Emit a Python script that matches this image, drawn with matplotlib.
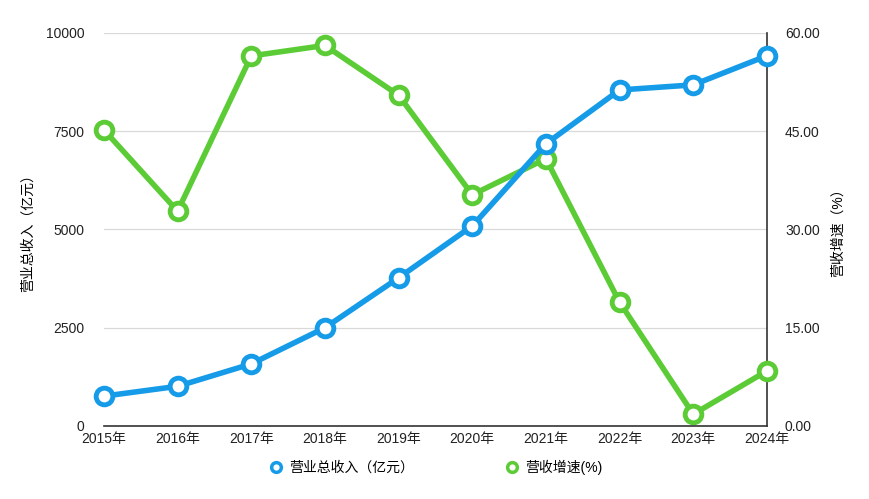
import matplotlib
matplotlib.use("Agg")
import matplotlib.pyplot as plt
from matplotlib.lines import Line2D

plt.rcParams['font.family'] = ['Liberation Sans', 'Noto Sans CJK SC', 'DejaVu Sans']

years = ["2015年", "2016年", "2017年", "2018年", "2019年",
         "2020年", "2021年", "2022年", "2023年", "2024年"]
revenue = [760, 1010, 1580, 2500, 3770, 5090, 7180, 8550, 8680, 9420]
growth = [45.2, 32.8, 56.5, 58.1, 50.5, 35.3, 40.8, 18.9, 1.8, 8.4]

left_ticks = [0, 2500, 5000, 7500, 10000]
right_ticks = [0, 15, 30, 45, 60]

BLUE = "#169be8"
GREEN = "#5ccc36"

fig = plt.figure(figsize=(8.7, 4.99), dpi=100)
ax1 = fig.add_axes([0.1195, 0.1463, 0.762, 0.7876])
ax2 = ax1.twinx()

x = list(range(len(years)))

ax2.plot(x, growth, color=GREEN, lw=4, marker="o", ms=12,
         mfc="white", mec=GREEN, mew=3.5, zorder=3, clip_on=False)
ax1.plot(x, revenue, color=BLUE, lw=4, marker="o", ms=12,
         mfc="white", mec=BLUE, mew=3.5, zorder=3, clip_on=False)

# blue line on top of green
ax1.set_zorder(ax2.get_zorder() + 1)
ax1.patch.set_visible(False)

ax1.set_xlim(0, len(years) - 1)
ax1.set_ylim(0, 10000)
ax2.set_ylim(0, 60)
ax1.set_xticks(x)
ax1.set_xticklabels(years)
ax1.set_yticks(left_ticks)
ax1.set_yticklabels([str(t) for t in left_ticks])
ax2.set_yticks(right_ticks)
ax2.set_yticklabels([f"{t:.2f}" for t in right_ticks])

ax2.grid(axis="y", color="#d9d9d9", lw=0.9)
ax2.set_axisbelow(True)

for a in (ax1, ax2):
    for s in ("top", "left", "right"):
        a.spines[s].set_visible(False)
    a.spines["bottom"].set_color("#333333")
    a.tick_params(length=0, labelsize=10, colors="#222222")
ax2.spines["right"].set_visible(True)
ax2.spines["right"].set_color("#333333")
ax2.spines["bottom"].set_visible(False)
ax1.spines["bottom"].set_linewidth(1.2)
ax2.spines["right"].set_linewidth(1.2)

ax1.tick_params(axis="y", pad=14)
ax1.tick_params(axis="x", pad=4)
ax2.tick_params(axis="y", pad=13)

ax1.set_ylabel("营业总收入（亿元）", fontsize=10, labelpad=8)
ax2.set_ylabel("营收增速（%）", fontsize=10, labelpad=8, rotation=90)

handles = [
    Line2D([], [], ls="none", marker="o", ms=7, mfc="white", mec=BLUE, mew=2.5),
    Line2D([], [], ls="none", marker="o", ms=7, mfc="white", mec=GREEN, mew=2.5),
]
fig.legend(handles, ["营业总收入（亿元）", "营收增速(%)"], loc="center",
           bbox_to_anchor=(0.5, 0.064), ncol=2, frameon=False, fontsize=10,
           columnspacing=6.5, handletextpad=0.3, handlelength=1.2)

fig.savefig("out.png", dpi=100)
